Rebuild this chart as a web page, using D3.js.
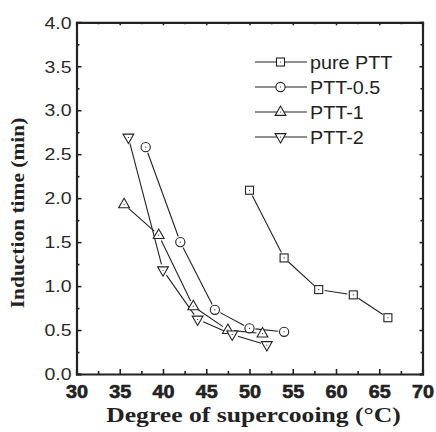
<!DOCTYPE html>
<html lang="en">
<head>
    <meta charset="UTF-8">
    <title>Induction time vs supercooling</title>
    <script src="https://d3js.org/d3.v7.min.js"></script>
    <style>
        body { margin: 0; background: #fff; }
    </style>
</head>
<body>
    <svg></svg>

    <script>
        const w = 436;
        const h = 432;

        // data
        const seriesNames = ['pure PTT', 'PTT-0.5', 'PTT-1', 'PTT-2'];
        const pureX = [50, 54, 58, 62, 66];
        const pureY = [2.09, 1.32, 0.96, 0.90, 0.64];
        const p05X = [38, 42, 46, 50, 54];
        const p05Y = [2.58, 1.50, 0.73, 0.52, 0.48];
        const p1X = [35.5, 39.5, 43.5, 47.5, 51.5];
        const p1Y = [1.93, 1.58, 0.77, 0.50, 0.46];
        const p2X = [36, 40, 44, 48, 52];
        const p2Y = [2.69, 1.18, 0.62, 0.45, 0.33];
        const xTicks = [30, 35, 40, 45, 50, 55, 60, 65, 70];
        const yTicks = [0, 0.5, 1.0, 1.5, 2.0, 2.5, 3.0, 3.5, 4.0];

        const series = [
            {name: seriesNames[0], xs: pureX, ys: pureY, shape: 'square'},
            {name: seriesNames[1], xs: p05X, ys: p05Y, shape: 'circle'},
            {name: seriesNames[2], xs: p1X, ys: p1Y, shape: 'up'},
            {name: seriesNames[3], xs: p2X, ys: p2Y, shape: 'down'}
        ];

        const pLeft = 76.5, pRight = 422.5, pTop = 22.3, pBottom = 374;
        const ink = '#222';

        const svg = d3.select('svg').attr('width', w).attr('height', h);

        const x = d3.scaleLinear().domain([30, 70]).range([pLeft, pRight]);
        const y = d3.scaleLinear().domain([0, 4]).range([pBottom, pTop]);

        const minorX = d3.range(32.5, 70, 5);
        const minorY = d3.range(0.25, 4, 0.5);

        // frame with inward ticks (major + minor)
        function frameAxis(gen, tr, major, minor, bigTick, smallTick, fmt) {
            const g = svg.append('g').attr('transform', tr);
            g.append('g').attr('class', 'minor')
                .call(gen.tickValues(minor).tickSize(-smallTick).tickFormat(''))
                .select('.domain').remove();
            const mj = g.append('g').attr('class', 'major')
                .call(gen.tickValues(major).tickSize(-bigTick).tickFormat(fmt || ''));
            g.selectAll('.domain').attr('stroke', ink).attr('stroke-width', 2.2);
            g.selectAll('.tick line').attr('stroke', ink).attr('stroke-width', 1.6);
            return mj;
        }

        const xb = frameAxis(d3.axisBottom(x), `translate(0,${pBottom})`, xTicks, minorX, 5, 3, d3.format('.0f'));
        xb.selectAll('.tick text')
            .attr('fill', ink)
            .attr('stroke', ink)
            .attr('stroke-width', 0.6)
            .attr('y', 0)
            .attr('dy', 0)
            .attr('transform', 'translate(0,24) scale(1.1,1)')
            .style('font-family', 'Arial, Liberation Sans, sans-serif')
            .style('font-weight', 'bold')
            .style('font-size', '18px');

        const yl = frameAxis(d3.axisLeft(y), `translate(${pLeft},0)`, yTicks, minorY, 5, 3, d3.format('.1f'));
        yl.selectAll('.tick text')
            .attr('fill', '#2a2a2a')
            .attr('x', 0)
            .attr('dy', '0.36em')
            .attr('transform', 'translate(-5,0) scale(1.22,1)')
            .style('font-family', 'Arial, Liberation Sans, sans-serif')
            .style('font-size', '16px');

        frameAxis(d3.axisTop(x), `translate(0,${pTop})`, xTicks, minorX, 3, 2);
        frameAxis(d3.axisRight(y), `translate(${pRight},0)`, yTicks, minorY, 3, 2);

        // axis titles
        svg.append('text')
            .attr('transform', `translate(${(pLeft + pRight) / 2 + 4},422) scale(1.25,1)`)
            .attr('text-anchor', 'middle')
            .attr('fill', ink)
            .style('font-family', 'Liberation Serif, Times New Roman, serif')
            .style('font-weight', '700')
            .style('font-size', '20.5px')
            .text('Degree of supercooing (°C)');

        svg.append('text')
            .attr('transform', `translate(24,213) rotate(-90) scale(1.1,1)`)
            .attr('text-anchor', 'middle')
            .attr('fill', ink)
            .style('font-family', 'Liberation Serif, Times New Roman, serif')
            .style('font-weight', '700')
            .style('font-size', '19.5px')
            .text('Induction time (min)');

        // markers
        function drawMarker(g, shape, cx, cy) {
            const m = g.append('g').attr('transform', `translate(${cx},${cy})`);
            const style = s => s.attr('fill', '#fff').attr('stroke', ink).attr('stroke-width', 1.1);
            if (shape === 'square') {
                style(m.append('rect').attr('x', -4).attr('y', -4).attr('width', 8).attr('height', 8));
            } else if (shape === 'circle') {
                style(m.append('circle').attr('r', 4.6));
            } else if (shape === 'up') {
                style(m.append('path').attr('d', 'M0,-6L5.4,3.4L-5.4,3.4Z'));
            } else {
                style(m.append('path').attr('d', 'M0,6L5.4,-3.4L-5.4,-3.4Z'));
            }
            m.append('circle').attr('r', 0.6).attr('fill', ink);
        }

        const gap = 6;
        const plot = svg.append('g');
        series.forEach(s => {
            const pts = s.xs.map((v, i) => [x(v), y(s.ys[i])]);
            d3.pairs(pts).forEach(([a, b]) => {
                const dx = b[0] - a[0], dy = b[1] - a[1];
                const len = Math.hypot(dx, dy);
                if (len <= 2 * gap) return;
                const ux = dx / len, uy = dy / len;
                plot.append('line')
                    .attr('x1', a[0] + ux * gap).attr('y1', a[1] + uy * gap)
                    .attr('x2', b[0] - ux * gap).attr('y2', b[1] - uy * gap)
                    .attr('stroke', ink).attr('stroke-width', 1.1);
            });
        });
        series.forEach(s => {
            s.xs.forEach((v, i) => drawMarker(plot, s.shape, x(v), y(s.ys[i])));
        });

        // legend
        const legend = svg.append('g').attr('transform', 'translate(255,62)');
        series.forEach((s, i) => {
            const row = legend.append('g').attr('transform', `translate(0,${i * 25})`);
            row.append('line').attr('x1', 0).attr('x2', 52).attr('y1', 0).attr('y2', 0)
                .attr('stroke', ink).attr('stroke-width', 1.1);
            drawMarker(row, s.shape, 25.5, 0);
            row.append('text')
                .attr('transform', 'translate(55,6.5) scale(1.13,1)')
                .attr('fill', ink)
                .style('font-family', 'Arial, Liberation Sans, sans-serif')
                .style('font-size', '17.5px')
                .text(s.name);
        });
    </script>
</body>
</html>
